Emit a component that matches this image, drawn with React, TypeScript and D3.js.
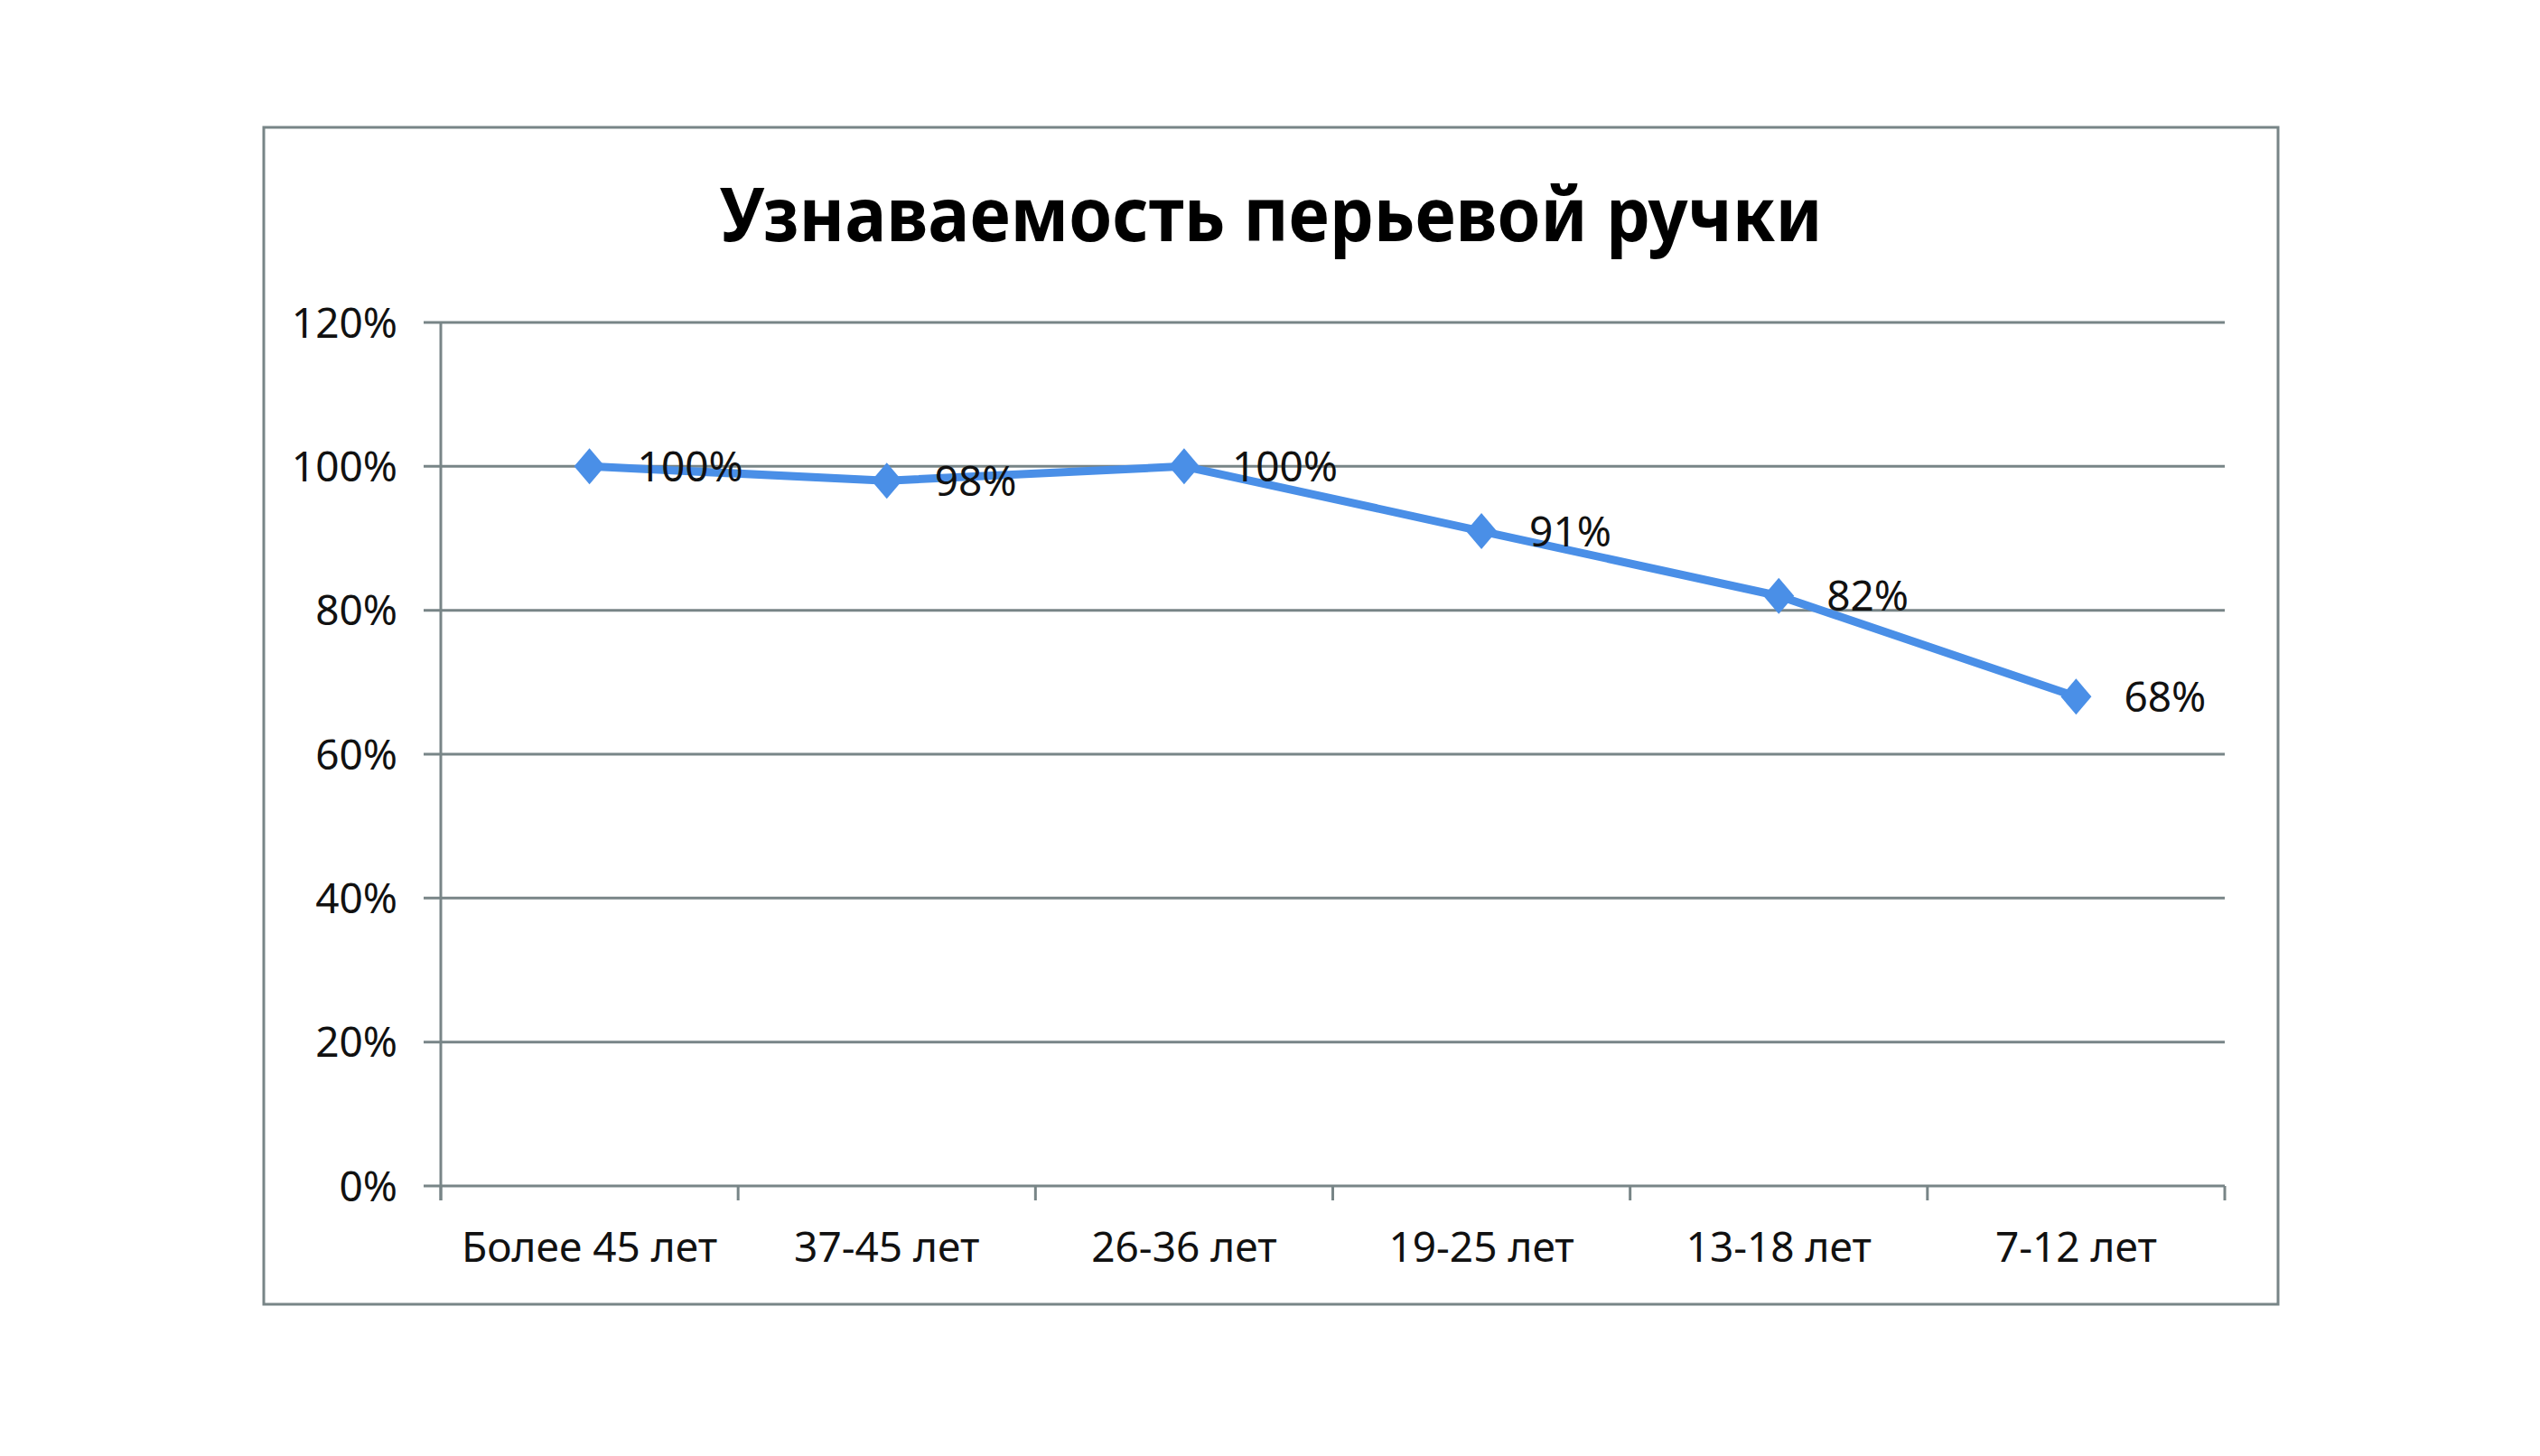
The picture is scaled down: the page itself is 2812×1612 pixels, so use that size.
import React, { useEffect, useRef } from 'react';
import * as d3 from 'd3';

const title = "Узнаваемость перьевой ручки";
const categories = ["Более 45 лет", "37-45 лет", "26-36 лет", "19-25 лет", "13-18 лет", "7-12 лет"];
const values = [1.0, 0.98, 1.0, 0.91, 0.82, 0.68];
const yTicks = [0, 0.2, 0.4, 0.6, 0.8, 1.0, 1.2];

const W = 2812;
const H = 1612;
const GRAY = "#788587";
const BLUE = "#4a8fe7";
const FONT = "'Noto Sans', 'Open Sans', sans-serif";

const App: React.FC = () => {
  const svgRef = useRef<SVGSVGElement>(null);

  useEffect(() => {
    document.body.style.margin = "0";
    if (!svgRef.current) return;
    const svg = d3.select(svgRef.current);
    svg.selectAll("*").remove();

    // outer chart frame
    svg.append("rect")
      .attr("x", 292).attr("y", 141)
      .attr("width", 2230).attr("height", 1303)
      .style("fill", "#fff")
      .style("stroke", GRAY)
      .style("stroke-width", 3);

    svg.append("text")
      .attr("x", 1407).attr("y", 267)
      .style("font-family", FONT)
      .style("font-weight", "bold")
      .style("font-size", "82px")
      .style("text-anchor", "middle")
      .attr("textLength", 1221)
      .attr("lengthAdjust", "spacingAndGlyphs")
      .text(title);

    const left = 488, right = 2463, top = 357, bottom = 1313;

    const x = d3.scaleBand().domain(categories).range([left, right]);
    const y = d3.scaleLinear().domain([0, 1.2]).range([bottom, top]);

    // gridlines + y ticks
    yTicks.forEach(t => {
      svg.append("line")
        .attr("x1", left - 19).attr("x2", right)
        .attr("y1", y(t)).attr("y2", y(t))
        .style("stroke", GRAY).style("stroke-width", 3);
      svg.append("text")
        .attr("x", 440).attr("y", y(t))
        .attr("dy", "0.36em")
        .style("font-family", FONT)
        .style("font-size", "46px")
        .style("text-anchor", "end")
        .style("fill", "#111")
        .text(`${Math.round(t * 100)}%`);
    });

    // y axis
    svg.append("line")
      .attr("x1", left).attr("x2", left)
      .attr("y1", top).attr("y2", bottom + 16)
      .style("stroke", GRAY).style("stroke-width", 3);

    // x ticks at category boundaries
    const bounds = categories.map(c => x(c)!).concat([right]);
    bounds.forEach(b => {
      svg.append("line")
        .attr("x1", b).attr("x2", b)
        .attr("y1", bottom).attr("y2", bottom + 16)
        .style("stroke", GRAY).style("stroke-width", 3);
    });

    categories.forEach(c => {
      svg.append("text")
        .attr("x", x(c)! + x.bandwidth() / 2)
        .attr("y", 1397)
        .style("font-family", FONT)
        .style("font-size", "46px")
        .style("text-anchor", "middle")
        .style("fill", "#111")
        .text(c);
    });

    const pts = categories.map((c, i) => ({ c, v: values[i] }));
    const line = d3.line<{ c: string; v: number }>()
      .x(d => x(d.c)! + x.bandwidth() / 2)
      .y(d => y(d.v));

    svg.append("path")
      .datum(pts)
      .attr("d", line)
      .style("fill", "none")
      .style("stroke", BLUE)
      .style("stroke-width", 9)
      .style("stroke-linejoin", "round");

    pts.forEach(d => {
      const cx = x(d.c)! + x.bandwidth() / 2;
      const cy = y(d.v);
      svg.append("path")
        .attr("d", `M${cx},${cy - 20}L${cx + 17},${cy}L${cx},${cy + 20}L${cx - 17},${cy}Z`)
        .style("fill", BLUE);
      svg.append("text")
        .attr("x", cx + 53).attr("y", cy)
        .attr("dy", "0.36em")
        .style("font-family", FONT)
        .style("font-size", "46px")
        .style("fill", "#111")
        .text(`${Math.round(d.v * 100)}%`);
    });
  }, []);

  return <svg ref={svgRef} width={W} height={H} style={{ display: "block", background: "#fff" }} />;
};

export default App;
